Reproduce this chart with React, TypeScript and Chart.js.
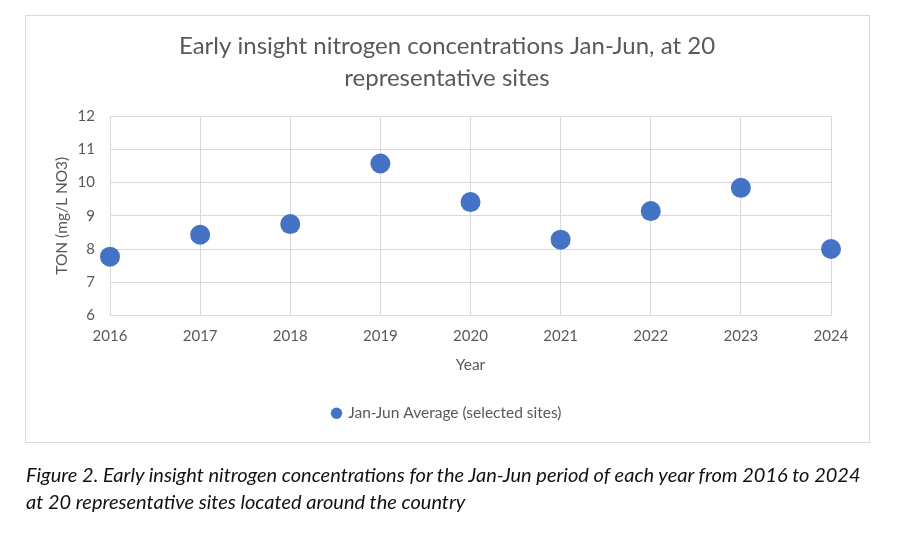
import React, { useEffect, useRef } from "react";
import { Chart, registerables } from "chart.js";

Chart.register(...registerables);

const years = ["2016", "2017", "2018", "2019", "2020", "2021", "2022", "2023", "2024"];
const janJunAverage = [7.77, 8.43, 8.75, 10.57, 9.41, 8.28, 9.14, 9.84, 8.0];
const titleLines = ["Early insight nitrogen concentrations Jan-Jun, at 20", "representative sites"];
const seriesName = "Jan-Jun Average (selected sites)";
const yTitle = "TON (mg/L NO3)";
const xTitle = "Year";
const captionLines = [
  "Figure 2. Early insight nitrogen concentrations for the Jan-Jun period of each year from 2016 to 2024",
  "at 20 representative sites located around the country",
];

const FONT = "Lato, 'Open Sans', sans-serif";
const GREY = "#595959";
const GRID = "#d9d9d9";
const BLUE = "#4472C4";

export default function App() {
  const ref = useRef<HTMLCanvasElement | null>(null);

  useEffect(() => {
    if (!ref.current) return;
    const chart = new Chart(ref.current, {
      type: "line",
      data: {
        labels: years,
        datasets: [
          {
            label: seriesName,
            data: janJunAverage,
            showLine: false,
            pointRadius: 10,
            pointHoverRadius: 10,
            pointBackgroundColor: BLUE,
            pointBorderColor: BLUE,
            backgroundColor: BLUE,
            borderColor: BLUE,
            pointBorderWidth: 0,
            clip: false,
          },
        ],
      },
      options: {
        responsive: false,
        animation: false,
        devicePixelRatio: 1,
        layout: { padding: { left: 25, right: 31, top: 0, bottom: 123 } },
        plugins: {
          title: {
            display: true,
            text: titleLines,
            color: GREY,
            font: { family: FONT, size: 24, weight: "normal", lineHeight: "32px" },
            padding: { top: 30, bottom: 22 },
          },
          legend: {
            display: true,
            position: "bottom",
            labels: {
              usePointStyle: true,
              pointStyle: "circle",
              boxWidth: 8,
              boxHeight: 8,
              padding: 10,
              color: GREY,
              font: { family: FONT, size: 15.5 },
            },
          },
          tooltip: { enabled: false },
        },
        scales: {
          x: {
            type: "category",
            offset: false,
            grid: { color: GRID, drawTicks: false },
            border: { color: GRID },
            ticks: { color: GREY, font: { family: FONT, size: 15 }, padding: 12, maxRotation: 0 },
            title: {
              display: true,
              text: xTitle,
              color: GREY,
              font: { family: FONT, size: 15.5, lineHeight: "18px" },
              padding: { top: 0, bottom: 22 },
            },
            afterFit: (s: any) => {
              s.height = 80;
            },
          },
          y: {
            min: 6,
            max: 12,
            ticks: { stepSize: 1, color: GREY, font: { family: FONT, size: 15 }, padding: 15 },
            grid: { color: GRID, drawTicks: false },
            border: { color: GRID },
            title: {
              display: true,
              text: yTitle,
              color: GREY,
              font: { family: FONT, size: 15.5, lineHeight: "18px" },
              padding: { top: 28, bottom: 0 },
            },
            afterFit: (s: any) => {
              s.width = 85;
            },
          },
          yRight: {
            position: "right",
            display: true,
            grid: { display: false },
            border: { display: false },
            ticks: { display: false },
            afterFit: (s: any) => {
              s.width = 38;
            },
          },
        },
      },
    } as any);
    return () => chart.destroy();
  }, []);

  return (
    <div style={{ position: "absolute", left: 0, top: 0, width: 900, height: 554, background: "#fff" }}>
      <div
        style={{
          position: "absolute",
          left: 25,
          top: 15,
          width: 845,
          height: 428,
          border: `1px solid ${GRID}`,
          boxSizing: "border-box",
        }}
      />
      <canvas ref={ref} width={900} height={554} style={{ position: "absolute", left: 0, top: 0 }} />
      {captionLines.map((t, i) => (
        <div
          key={i}
          style={{
            position: "absolute",
            left: 26,
            top: 461 + i * 27,
            height: 27,
            lineHeight: "27px",
            whiteSpace: "nowrap",
            fontFamily: FONT,
            fontStyle: "italic",
            fontSize: 20,
            color: "#111",
          }}
        >
          {t}
        </div>
      ))}
    </div>
  );
}
